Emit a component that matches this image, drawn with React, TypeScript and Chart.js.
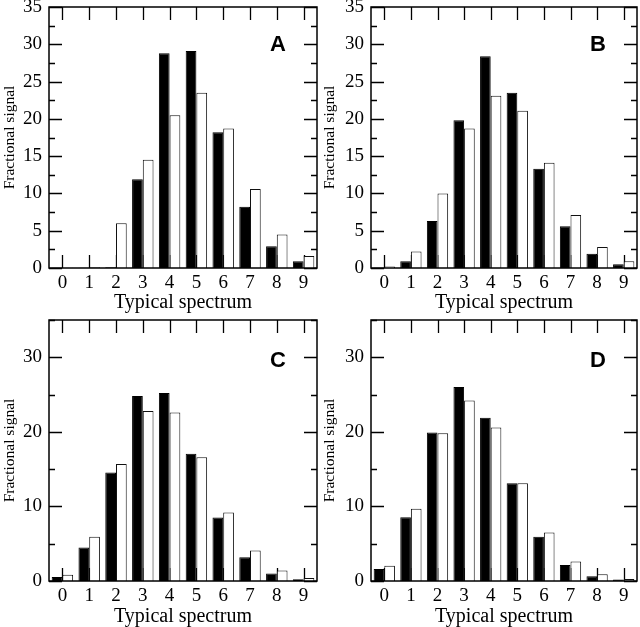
import React, { useEffect, useRef } from 'react';
import { Chart, registerables } from 'chart.js';

Chart.register(...registerables);

const categories = ['0', '1', '2', '3', '4', '5', '6', '7', '8', '9'];

const blackA = [0.05, 0.05, 0.1, 11.9, 28.8, 29.1, 18.2, 8.2, 2.9, 0.9];
const whiteA = [0.05, 0.1, 6.0, 14.5, 20.5, 23.5, 18.7, 10.6, 4.5, 1.6];

const blackB = [0.05, 0.9, 6.3, 19.8, 28.4, 23.5, 13.3, 5.6, 1.9, 0.5];
const whiteB = [0.2, 2.2, 10.0, 18.7, 23.1, 21.1, 14.1, 7.1, 2.8, 0.9];

const blackC = [0.55, 4.5, 14.55, 24.8, 25.2, 17.05, 8.5, 3.2, 1.0, 0.25];
const whiteC = [0.85, 5.95, 15.7, 22.8, 22.6, 16.6, 9.2, 4.1, 1.4, 0.4];

const blackD = [1.6, 8.55, 19.9, 26.0, 21.9, 13.1, 5.95, 2.15, 0.65, 0.2];
const whiteD = [2.05, 9.7, 19.8, 24.2, 20.6, 13.1, 6.5, 2.6, 0.9, 0.27];

const yMajorTop = [0, 5, 10, 15, 20, 25, 30, 35];
const yMinorTop = [2.5, 7.5, 12.5, 17.5, 22.5, 27.5, 32.5];
const yMajorBottom = [0, 10, 20, 30];
const yMinorBottom = [5, 15, 25, 35];

const xTitle = 'Typical spectrum';
const yTitle = 'Fractional signal';

type PanelCfg = {
  letter: string;
  black: number[];
  white: number[];
  major: number[];
  minor: number[];
  left: number;
  top: number;
  width: number;
  height: number;
  axisWidth: number;
  axisHeight: number;
  padTop: number;
  letterDy: number;
};

const panels: PanelCfg[] = [
  { letter: 'A', black: blackA, white: whiteA, major: yMajorTop, minor: yMinorTop, left: 0, top: 0, width: 320, height: 313, axisWidth: 49, axisHeight: 45, padTop: 7, letterDy: 43.7 },
  { letter: 'B', black: blackB, white: whiteB, major: yMajorTop, minor: yMinorTop, left: 320, top: 0, width: 320, height: 313, axisWidth: 51, axisHeight: 45, padTop: 7, letterDy: 43.7 },
  { letter: 'C', black: blackC, white: whiteC, major: yMajorBottom, minor: yMinorBottom, left: 0, top: 313, width: 320, height: 314, axisWidth: 49, axisHeight: 46, padTop: 7, letterDy: 46.7 },
  { letter: 'D', black: blackD, white: whiteD, major: yMajorBottom, minor: yMinorBottom, left: 320, top: 313, width: 320, height: 314, axisWidth: 51, axisHeight: 46, padTop: 7, letterDy: 46.7 },
];

const frameTicksPlugin = {
  id: 'frameTicks',
  beforeDatasetsDraw(chart: any, _args: any, opts: any) {
    const { ctx, chartArea } = chart;
    const xs = chart.scales.x;
    const ys = chart.scales.y;
    ctx.save();
    ctx.strokeStyle = '#000';
    ctx.lineWidth = 1.3;
    ctx.beginPath();
    for (let i = 0; i < categories.length; i++) {
      const x = Math.round(xs.getPixelForTick(i)) + 0.5;
      ctx.moveTo(x, chartArea.bottom);
      ctx.lineTo(x, chartArea.bottom - 13);
      ctx.moveTo(x, chartArea.top);
      ctx.lineTo(x, chartArea.top + 13);
    }
    for (const v of opts.major) {
      const y = Math.round(ys.getPixelForValue(v)) + 0.5;
      ctx.moveTo(chartArea.left, y);
      ctx.lineTo(chartArea.left + 13, y);
      ctx.moveTo(chartArea.right, y);
      ctx.lineTo(chartArea.right - 13, y);
    }
    for (const v of opts.minor) {
      const y = Math.round(ys.getPixelForValue(v)) + 0.5;
      ctx.moveTo(chartArea.left, y);
      ctx.lineTo(chartArea.left + 6, y);
      ctx.moveTo(chartArea.right, y);
      ctx.lineTo(chartArea.right - 6, y);
    }
    ctx.stroke();
    ctx.restore();
  },
  afterDatasetsDraw(chart: any, _args: any, opts: any) {
    const { ctx, chartArea } = chart;
    ctx.save();
    ctx.strokeStyle = '#000';
    ctx.lineWidth = 1.5;
    ctx.strokeRect(chartArea.left, chartArea.top, chartArea.right - chartArea.left, chartArea.bottom - chartArea.top);
    ctx.fillStyle = '#000';
    ctx.font = 'bold 22px "Liberation Sans", Arial, sans-serif';
    ctx.textAlign = 'right';
    ctx.textBaseline = 'alphabetic';
    ctx.fillText(opts.letter, chartArea.right - 31, chartArea.top + opts.letterDy);
    ctx.restore();
  },
};

function Panel({ cfg }: { cfg: PanelCfg }) {
  const ref = useRef<HTMLCanvasElement | null>(null);
  useEffect(() => {
    if (!ref.current) return;
    const chart = new Chart(ref.current, {
      type: 'bar',
      data: {
        labels: categories,
        datasets: [
          {
            data: cfg.black,
            backgroundColor: '#000',
            borderColor: '#000',
            borderWidth: 1,
            categoryPercentage: 0.8,
            barPercentage: 1.0,
          },
          {
            data: cfg.white,
            backgroundColor: '#fff',
            borderColor: '#111',
            borderWidth: 1,
            categoryPercentage: 0.8,
            barPercentage: 1.0,
          },
        ],
      },
      options: {
        animation: false,
        responsive: false,
        devicePixelRatio: 1,
        layout: { padding: { top: cfg.padTop, right: 3, left: 0, bottom: 0 } },
        plugins: {
          legend: { display: false },
          tooltip: { enabled: false },
          frameTicks: { major: cfg.major, minor: cfg.minor, letter: cfg.letter, letterDy: cfg.letterDy },
        } as any,
        scales: {
          x: {
            type: 'category',
            offset: true,
            grid: { display: false, drawTicks: false },
            border: { display: false },
            ticks: {
              padding: 4,
              color: '#000',
              autoSkip: false,
              maxRotation: 0,
              font: { family: '"Liberation Serif", "Times New Roman", serif', size: 19 },
            },
            title: {
              display: true,
              text: xTitle,
              color: '#000',
              font: { family: '"Liberation Serif", "Times New Roman", serif', size: 20, lineHeight: 1 },
              padding: { top: 0, bottom: 0.5 },
            },
            afterFit: (s: any) => {
              s.height = cfg.axisHeight;
              s.paddingLeft = 0;
              s.paddingRight = 0;
            },
          },
          y: {
            min: 0,
            max: 35,
            grid: { display: false, drawTicks: false },
            border: { display: false },
            afterBuildTicks: (s: any) => {
              s.ticks = cfg.major.map((v) => ({ value: v }));
            },
            ticks: {
              padding: 7,
              color: '#000',
              autoSkip: false,
              font: { family: '"Liberation Serif", "Times New Roman", serif', size: 19 },
            },
            title: {
              display: true,
              text: yTitle,
              color: '#000',
              font: { family: '"Liberation Serif", "Times New Roman", serif', size: 15.5, lineHeight: 1.2 },
              padding: { top: 0.5, bottom: 0 },
            },
            afterFit: (s: any) => {
              s.width = cfg.axisWidth;
              s.paddingTop = 0;
              s.paddingBottom = 0;
            },
          },
        },
      } as any,
      plugins: [frameTicksPlugin],
    });
    return () => chart.destroy();
  }, [cfg]);
  return (
    <canvas
      ref={ref}
      width={cfg.width}
      height={cfg.height}
      style={{ position: 'absolute', left: cfg.left, top: cfg.top, width: cfg.width, height: cfg.height }}
    />
  );
}

export default function App() {
  return (
    <div style={{ position: 'absolute', left: 0, top: 0, width: 640, height: 627, background: '#fff', overflow: 'hidden' }}>
      {panels.map((p) => (
        <Panel key={p.letter} cfg={p} />
      ))}
    </div>
  );
}
